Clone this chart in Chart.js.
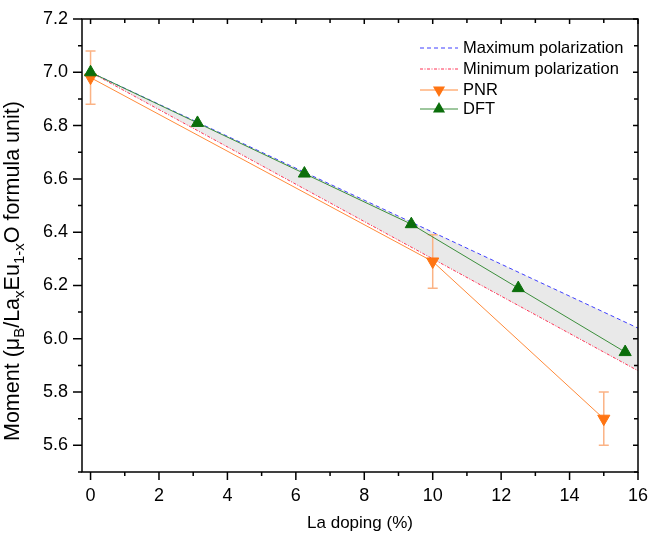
<!DOCTYPE html>
<html>
<head>
<meta charset="utf-8">
<script src="https://cdn.jsdelivr.net/npm/chart.js@4"></script>
<style>
  html, body { margin: 0; padding: 0; background: #fff; }
  #wrap { width: 662px; height: 535px; }
</style>
</head>
<body>
<div id="wrap"><canvas id="momentChart" width="662" height="535"></canvas></div>
<script>
// La doping (%) on x, moment per formula unit on y
const dopingPolarization = [0, 16];
const momentMaxPolarization = [7.0, 6.04];
const momentMinPolarization = [7.0, 5.88];

const dopingPNR = [0, 10, 15];
const momentPNR = [6.98, 6.29, 5.70];
const errorPNR = [0.1, 0.1, 0.1];

const dopingDFT = [0, 3.125, 6.25, 9.375, 12.5, 15.625];
const momentDFT = [7.0, 6.81, 6.62, 6.43, 6.19, 5.95];

const xTickLabels = [0, 2, 4, 6, 8, 10, 12, 14, 16];
const xMinorTicks = [1, 3, 5, 7, 9, 11, 13, 15];
const yTickLabels = [5.6, 5.8, 6.0, 6.2, 6.4, 6.6, 6.8, 7.0, 7.2];
const yMinorTicks = [5.5, 5.7, 5.9, 6.1, 6.3, 6.5, 6.7, 6.9, 7.1];

const seriesNames = ['Maximum polarization', 'Minimum polarization', 'PNR', 'DFT'];

const FONT = "'Liberation Sans', Arial, sans-serif";
Chart.defaults.font.family = FONT;
Chart.defaults.color = '#000';

function toPoints(xs, ys) {
    return xs.map((x, i) => ({ x: x, y: ys[i] }));
}

// Error bars for the PNR points, drawn just before the PNR line/markers
const errorBarPlugin = {
    id: 'errorBars',
    beforeDatasetDraw(chart, args) {
        if (args.index !== 2) return;
        const { ctx, scales: { x, y } } = chart;
        ctx.save();
        ctx.strokeStyle = '#fbb385';
        ctx.lineWidth = 1.5;
        ctx.beginPath();
        dopingPNR.forEach((d, i) => {
            const px = x.getPixelForValue(d);
            const top = y.getPixelForValue(momentPNR[i] + errorPNR[i]);
            const bot = y.getPixelForValue(momentPNR[i] - errorPNR[i]);
            ctx.moveTo(px, top); ctx.lineTo(px, bot);
            ctx.moveTo(px - 5, top); ctx.lineTo(px + 5, top);
            ctx.moveTo(px - 5, bot); ctx.lineTo(px + 5, bot);
        });
        ctx.stroke();
        ctx.restore();
    }
};

// Box frame with major/minor ticks (outward on left/bottom, inward on top/right)
const framePlugin = {
    id: 'frame',
    afterDatasetsDraw(chart) {
        const { ctx, chartArea: a, scales: { x, y } } = chart;
        ctx.save();
        ctx.strokeStyle = '#000';
        ctx.lineWidth = 1.5;
        ctx.strokeRect(a.left, a.top, a.right - a.left, a.bottom - a.top);
        ctx.beginPath();
        const tick = (x1, y1, x2, y2) => { ctx.moveTo(x1, y1); ctx.lineTo(x2, y2); };
        xTickLabels.forEach(v => {
            const p = x.getPixelForValue(v);
            tick(p, a.bottom, p, a.bottom + 8);
            tick(p, a.top, p, a.top + 5);
        });
        xMinorTicks.forEach(v => {
            const p = x.getPixelForValue(v);
            tick(p, a.bottom, p, a.bottom + 4);
            tick(p, a.top, p, a.top + 4);
        });
        yTickLabels.forEach(v => {
            const p = y.getPixelForValue(v);
            tick(a.left - 9, p, a.left, p);
            tick(a.right - 5, p, a.right, p);
        });
        yMinorTicks.forEach(v => {
            const p = y.getPixelForValue(v);
            tick(a.left - 4, p, a.left, p);
            tick(a.right - 4, p, a.right, p);
        });
        ctx.stroke();
        ctx.restore();
    }
};

// Axis titles (y title has subscripts) and the legend inside the plot
const yTitleParts = [['Moment (\u03bc', false], ['B', true], ['/La', false], ['x', true],
                     ['Eu', false], ['1-x', true], ['O formula unit)', false]];

const labelsPlugin = {
    id: 'labels',
    afterDraw(chart) {
        const { ctx, chartArea: a } = chart;
        ctx.save();
        ctx.fillStyle = '#000';

        // x title
        ctx.font = '17px ' + FONT;
        ctx.textAlign = 'center';
        ctx.textBaseline = 'alphabetic';
        ctx.fillText('La doping (%)', (a.left + a.right) / 2, 528);

        // y title, rotated
        ctx.save();
        ctx.translate(19, 441);
        ctx.rotate(-Math.PI / 2);
        ctx.textAlign = 'left';
        let cx = 0;
        yTitleParts.forEach(([txt, sub]) => {
            ctx.font = (sub ? '15px ' : '21.5px ') + FONT;
            ctx.fillText(txt, cx, sub ? 5 : 0);
            cx += ctx.measureText(txt).width;
        });
        ctx.restore();

        // legend
        const rows = [48, 69, 90, 109];
        const x0 = 420, x1 = 458;
        ctx.font = '16.5px ' + FONT;
        ctx.textAlign = 'left';
        ctx.textBaseline = 'middle';
        chart.data.datasets.forEach((ds, i) => {
            const ry = rows[i];
            ctx.save();
            ctx.strokeStyle = ds.borderColor;
            ctx.lineWidth = ds.borderWidth;
            ctx.setLineDash(ds.borderDash || []);
            ctx.beginPath();
            ctx.moveTo(x0, ry); ctx.lineTo(x1, ry);
            ctx.stroke();
            ctx.restore();
            if (ds.pointRadius > 0) {
                const r = ds.pointRadius;
                const dir = ds.pointRotation === 180 ? -1 : 1;
                const mx = (x0 + x1) / 2;
                ctx.fillStyle = ds.pointBackgroundColor;
                ctx.beginPath();
                ctx.moveTo(mx, ry - dir * r);
                ctx.lineTo(mx + r * Math.sqrt(3) / 2, ry + dir * r / 2);
                ctx.lineTo(mx - r * Math.sqrt(3) / 2, ry + dir * r / 2);
                ctx.closePath();
                ctx.fill();
            }
            ctx.fillStyle = '#000';
            ctx.fillText(ds.label, 463, ry);
        });
        ctx.restore();
    }
};

new Chart(document.getElementById('momentChart'), {
    type: 'line',
    data: {
        datasets: [
            {
                label: seriesNames[0],
                data: toPoints(dopingPolarization, momentMaxPolarization),
                borderColor: '#3f3fff',
                borderWidth: 1,
                borderDash: [4, 3],
                pointRadius: 0,
                fill: { target: 1 },
                backgroundColor: '#e9e9e9',
                order: 3
            },
            {
                label: seriesNames[1],
                data: toPoints(dopingPolarization, momentMinPolarization),
                borderColor: '#ff3355',
                borderWidth: 1,
                borderDash: [3, 1.5, 1, 1.5],
                pointRadius: 0,
                fill: false,
                order: 4
            },
            {
                label: seriesNames[2],
                data: toPoints(dopingPNR, momentPNR),
                borderColor: '#ff8a3a',
                borderWidth: 1,
                pointStyle: 'triangle',
                pointRotation: 180,
                pointRadius: 7,
                pointBackgroundColor: '#ff7412',
                pointBorderColor: '#ff7412',
                pointBorderWidth: 1,
                fill: false,
                order: 2
            },
            {
                label: seriesNames[3],
                data: toPoints(dopingDFT, momentDFT),
                borderColor: '#3c8f3c',
                borderWidth: 1,
                pointStyle: 'triangle',
                pointRadius: 7,
                pointBackgroundColor: '#0b6e0b',
                pointBorderColor: '#0b6e0b',
                pointBorderWidth: 1,
                fill: false,
                order: 1
            }
        ]
    },
    options: {
        responsive: false,
        animation: false,
        devicePixelRatio: 1,
        layout: { padding: { top: 19, right: 24, bottom: 0, left: 0 } },
        plugins: {
            legend: { display: false },
            tooltip: { enabled: false },
            filler: { drawTime: 'beforeDatasetsDraw' }
        },
        scales: {
            x: {
                type: 'linear',
                min: -0.25,
                max: 16,
                afterBuildTicks: s => { s.ticks = xTickLabels.map(v => ({ value: v })); },
                afterFit: s => { s.height = 63; },
                ticks: { font: { size: 18 }, color: '#000', padding: 5, maxRotation: 0, autoSkip: false,
                         callback: v => String(v) },
                grid: { display: false, drawTicks: true, tickLength: 8 },
                border: { display: false }
            },
            y: {
                type: 'linear',
                min: 5.5,
                max: 7.2,
                afterBuildTicks: s => { s.ticks = yTickLabels.map(v => ({ value: v })); },
                afterFit: s => { s.width = 82; },
                ticks: { font: { size: 18 }, color: '#000', padding: 5, autoSkip: false,
                         callback: v => Number(v).toFixed(1) },
                grid: { display: false, drawTicks: true, tickLength: 9 },
                border: { display: false }
            }
        }
    },
    plugins: [errorBarPlugin, framePlugin, labelsPlugin]
});
</script>
</body>
</html>
